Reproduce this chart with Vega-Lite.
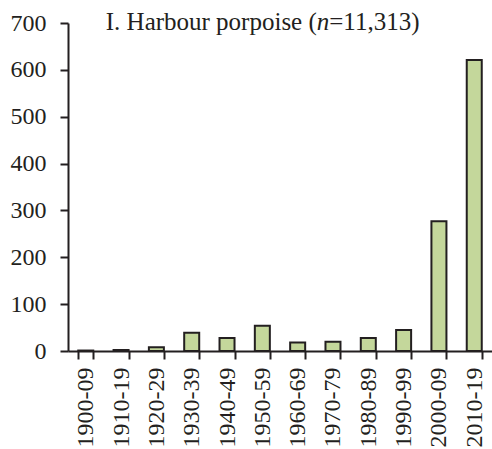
{
  "$schema": "https://vega.github.io/schema/vega-lite/v6.json",
  "autosize": "none",
  "width": 424,
  "height": 328,
  "padding": {"left": 68, "top": 23, "right": 0, "bottom": 98},
  "background": "white",
  "config": {
    "view": {"stroke": null},
    "font": "Liberation Serif",
    "axis": {"grid": false, "domainColor": "#231f20", "tickColor": "#231f20", "domainWidth": 2, "tickWidth": 2, "labelColor": "#231f20", "labelFont": "Liberation Serif", "labelFontSize": 24, "labelFontWeight": "normal", "title": null}
  },
  "layer": [
    {
      "data": {"values": [
        {"decade": "1900-09", "count": 1},
        {"decade": "1910-19", "count": 2},
        {"decade": "1920-29", "count": 8},
        {"decade": "1930-39", "count": 39},
        {"decade": "1940-49", "count": 28},
        {"decade": "1950-59", "count": 54},
        {"decade": "1960-69", "count": 18},
        {"decade": "1970-79", "count": 20},
        {"decade": "1980-89", "count": 28},
        {"decade": "1990-99", "count": 45},
        {"decade": "2000-09", "count": 277},
        {"decade": "2010-19", "count": 621}
      ]},
      "mark": {"type": "bar", "fill": "#c4d79b", "stroke": "#231f20", "strokeWidth": 2},
      "encoding": {
        "x": {"field": "decade", "type": "nominal", "sort": null,
              "scale": {"paddingInner": 0.575, "paddingOuter": 0.29},
              "axis": {"labelAngle": -90, "tickBand": "extent", "tickSize": 8, "labelPadding": 8}},
        "y": {"field": "count", "type": "quantitative",
              "scale": {"domain": [0, 700]},
              "axis": {"values": [0, 100, 200, 300, 400, 500, 600, 700], "tickSize": 8, "labelPadding": 14}}
      }
    },
    {
      "data": {"values": [{"part": "I. Harbour porpoise ("}]},
      "mark": {"type": "text", "font": "Liberation Serif", "fontSize": 25, "fontWeight": "normal", "fill": "#231f20", "align": "left", "baseline": "alphabetic", "dx": 20, "dy": 7},
      "encoding": {"x": {"datum": "1900-09"}, "y": {"datum": 700}, "text": {"field": "part"}}
    },
    {
      "data": {"values": [{"part": "n"}]},
      "mark": {"type": "text", "font": "Liberation Serif", "fontSize": 25, "fontWeight": "normal", "fontStyle": "italic", "fill": "#231f20", "align": "left", "baseline": "alphabetic", "dx": 231, "dy": 7},
      "encoding": {"x": {"datum": "1900-09"}, "y": {"datum": 700}, "text": {"field": "part"}}
    },
    {
      "data": {"values": [{"part": "=11,313)"}]},
      "mark": {"type": "text", "font": "Liberation Serif", "fontSize": 25, "fontWeight": "normal", "fill": "#231f20", "align": "left", "baseline": "alphabetic", "dx": 243.5, "dy": 7},
      "encoding": {"x": {"datum": "1900-09"}, "y": {"datum": 700}, "text": {"field": "part"}}
    }
  ]
}
